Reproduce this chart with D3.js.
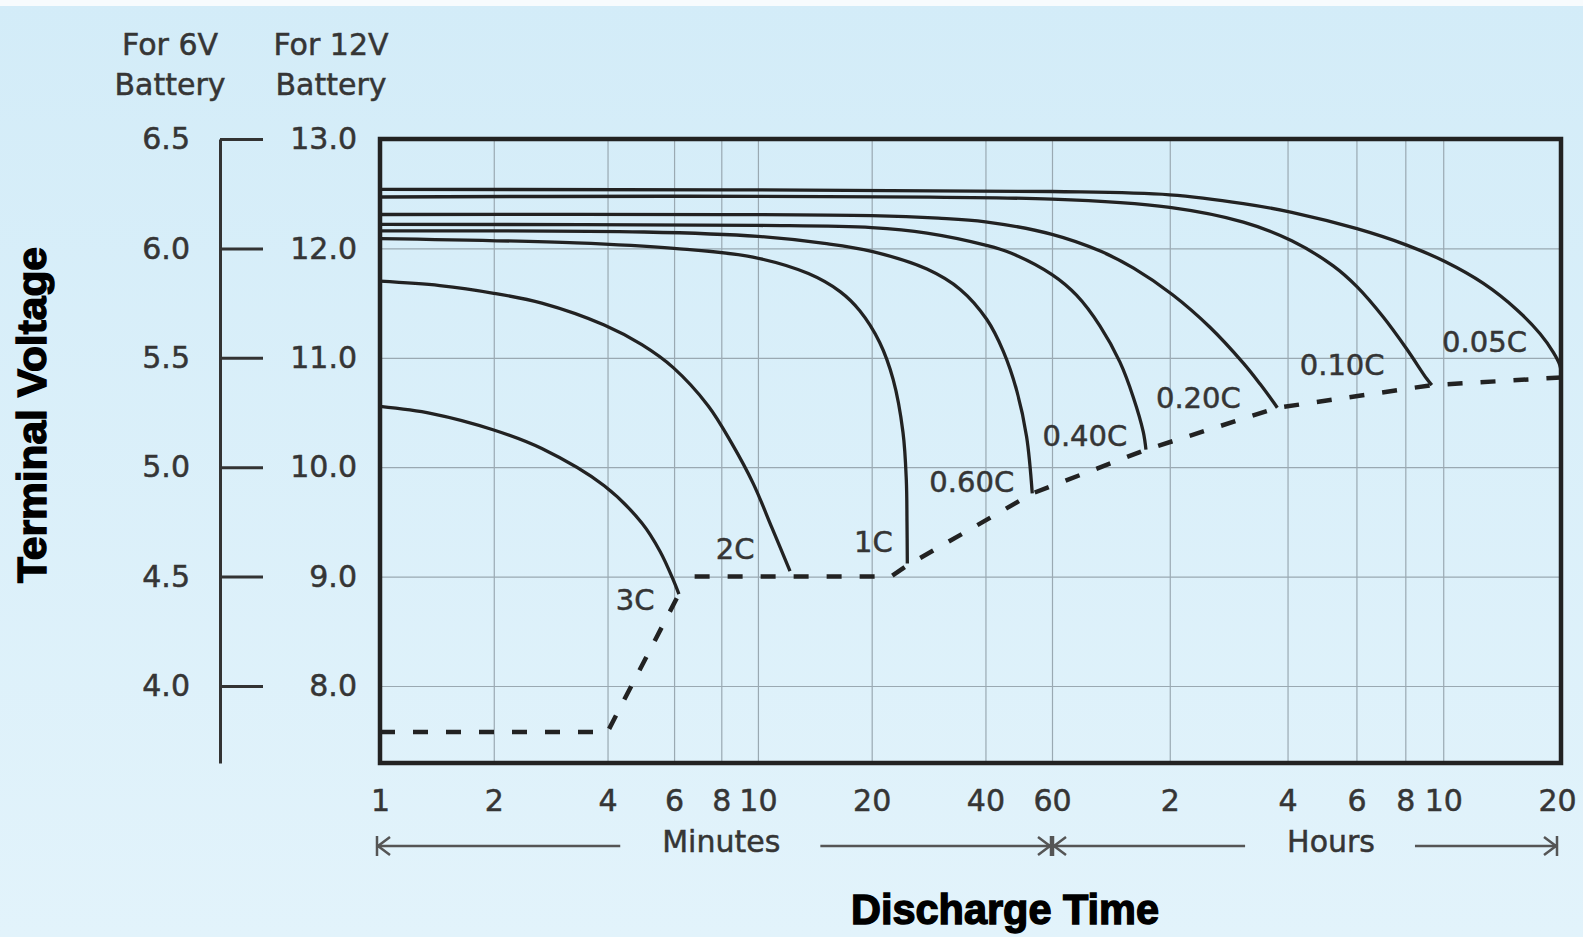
<!DOCTYPE html>
<html>
<head>
<meta charset="utf-8">
<script src="https://cdn.jsdelivr.net/npm/d3@7"></script>
<style>
  html, body { margin: 0; padding: 0; background: #fff; }
  svg { display: block; }
</style>
</head>
<body>
<svg id="chart" width="1583" height="937"></svg>
<script>
// x ticks in minutes, labels as printed (minutes, then hours)
const tickMinutes = [1, 2, 4, 6, 8, 10, 20, 40, 60, 120, 240, 360, 480, 600, 1200];
const tickLabels = ["1", "2", "4", "6", "8", "10", "20", "40", "60", "2", "4", "6", "8", "10", "20"];
const volt12 = [8, 9, 10, 11, 12, 13];
const volt6 = [4.0, 4.5, 5.0, 5.5, 6.0, 6.5];

const rates = ["3C", "2C", "1C", "0.60C", "0.40C", "0.20C", "0.10C", "0.05C"];

// [minutes, volts] for a 12V battery
const c3C = [[1, 10.555], [1.37, 10.49], [2, 10.34], [2.68, 10.17], [3.92, 9.83], [4.93, 9.49], [5.51, 9.23], [5.97, 8.97], [6.18, 8.84]];
const c2C = [[1, 11.70], [1.44, 11.66], [2, 11.59], [2.68, 11.50], [3.92, 11.30], [4.93, 11.12], [5.97, 10.91], [7.39, 10.56], [8.52, 10.22], [9.72, 9.85], [10.88, 9.45], [12.16, 9.05]];
const c1C = [[1, 12.09], [3.3, 12.05], [6, 12.0], [9.7, 11.92], [13.6, 11.77], [16.5, 11.605], [18.6, 11.43], [21, 11.14], [22.8, 10.80], [24.2, 10.32], [24.7, 9.88], [24.8, 9.5], [24.85, 9.12]];
const c060 = [[1, 12.16], [5, 12.15], [10, 12.11], [15, 12.046], [20, 11.973], [28, 11.811], [34.3, 11.625], [40.3, 11.352], [44.6, 11.059], [48.4, 10.70], [51.4, 10.279], [53.2, 9.76]];
const c040 = [[1, 12.22], [10, 12.21], [20, 12.19], [28, 12.14], [40, 12.03], [46.5, 11.96], [60, 11.76], [69.4, 11.57], [79.6, 11.29], [89.5, 10.96], [96.8, 10.64], [102.7, 10.32], [104.3, 10.16]];
const c020 = [[1, 12.31], [20, 12.3], [30, 12.277], [40, 12.243], [60, 12.128], [80, 11.973], [97, 11.819], [122, 11.576], [152, 11.279], [185, 10.951], [204, 10.762], [221, 10.593], [226, 10.543]];
const c010 = [[1, 12.47], [60, 12.45], [120, 12.375], [185, 12.24], [246, 12.07], [314, 11.84], [361, 11.65], [422, 11.37], [484, 11.08], [544, 10.81], [561, 10.75]];
const c005 = [[1, 12.54], [60, 12.52], [120, 12.49], [185, 12.41], [246, 12.33], [361, 12.18], [484, 12.03], [606, 11.88], [760, 11.68], [925, 11.44], [1061, 11.22], [1147, 11.05], [1190, 10.94], [1200, 10.88]];
const curves = [c3C, c2C, c1C, c060, c040, c020, c010, c005];

// where each rate label sits [minutes, volts]
const labelSpots = [[4.73, 8.79], [8.7, 9.26], [20.2, 9.32], [36.8, 9.87], [72.8, 10.29], [142, 10.64], [331, 10.94], [765, 11.15]];

// final discharge voltage (dashed)
const cutoffLow = [[1, 7.58], [4, 7.58], [6.18, 8.84]];
const cutoffHigh = [[6.8, 9.0], [12.2, 9.0], [22.5, 9.0], [24.8, 9.1], [53.2, 9.76], [104.3, 10.16], [226, 10.543], [561, 10.75], [1200, 10.82]];

// time spans under the axis: name, from, to, where the name sits (minutes)
const spans = [["Minutes", 1, 60, 8], ["Hours", 60, 1200, 310]];

const svg = d3.select("#chart");
const pLeft = 380, pRight = 1561, pTop = 139, pBottom = 763;
const ink = "#222";
const gray = "#353535";
const labelFont = "'DejaVu Sans', Arial, sans-serif";

// minutes and hours each get their own log stretch
const xLog = d3.scaleLinear()
  .domain([0, Math.log10(60), Math.log10(1200)])
  .range([pLeft, 1052, pRight]);
const x = m => xLog(Math.log10(m));
const y = d3.scaleLinear().domain([8, 13]).range([686, pTop]);
const y6 = d3.scaleLinear().domain([y.invert(pBottom) / 2, 6.5]).range([pBottom, pTop]);

function grayText(sel, size) {
  sel.attr("font-family", labelFont)
    .attr("font-size", size)
    .attr("fill", gray)
    .attr("stroke", gray)
    .attr("stroke-width", 0.5);
}

// background
const defs = svg.append("defs");
const grad = defs.append("linearGradient").attr("id", "bg").attr("x1", 0).attr("y1", 0).attr("x2", 0).attr("y2", 1);
grad.append("stop").attr("offset", "0%").attr("stop-color", "#d3ecf8");
grad.append("stop").attr("offset", "100%").attr("stop-color", "#e2f3fb");
svg.append("rect").attr("width", 1583).attr("height", 937).attr("fill", "url(#bg)");
svg.append("rect").attr("width", 1583).attr("height", 6).attr("fill", "#f7fbfd");

// grid
svg.append("g")
  .attr("transform", `translate(0,${pBottom})`)
  .call(d3.axisBottom(xLog).tickValues(tickMinutes.map(Math.log10)).tickSize(-(pBottom - pTop)).tickFormat(""))
  .call(g => g.select(".domain").remove())
  .selectAll("line").attr("stroke", "#9aa9b2").attr("stroke-width", 1.2);

svg.append("g")
  .attr("transform", `translate(${pLeft},0)`)
  .call(d3.axisLeft(y).tickValues(volt12).tickSize(-(pRight - pLeft)).tickFormat(""))
  .call(g => g.select(".domain").remove())
  .selectAll("line").attr("stroke", "#9aa9b2").attr("stroke-width", 1.2);

// discharge curves
const line = d3.line().x(d => x(d[0])).y(d => y(d[1])).curve(d3.curveCatmullRom.alpha(0.5));
svg.append("g").selectAll("path")
  .data(curves)
  .join("path")
  .attr("d", line)
  .attr("fill", "none")
  .attr("stroke", ink)
  .attr("stroke-width", 3.3);

const dashLine = d3.line().x(d => x(d[0])).y(d => y(d[1]));
svg.append("g").selectAll("path")
  .data([cutoffLow, cutoffHigh])
  .join("path")
  .attr("d", dashLine)
  .attr("fill", "none")
  .attr("stroke", ink)
  .attr("stroke-width", 4.5)
  .attr("stroke-dasharray", "15,18");

// rate labels
svg.append("g").selectAll("text")
  .data(rates)
  .join("text")
  .attr("x", (d, i) => x(labelSpots[i][0]))
  .attr("y", (d, i) => y(labelSpots[i][1]))
  .attr("dy", "0.36em")
  .attr("text-anchor", "middle")
  .call(grayText, 29)
  .text(d => d);

// plot frame
svg.append("rect")
  .attr("x", pLeft).attr("y", pTop)
  .attr("width", pRight - pLeft).attr("height", pBottom - pTop)
  .attr("fill", "none")
  .attr("stroke", ink)
  .attr("stroke-width", 4.5);

// 12V labels
const ax12 = svg.append("g")
  .attr("transform", "translate(357,0)")
  .call(d3.axisLeft(y).tickValues(volt12).tickSize(0).tickPadding(0).tickFormat(d3.format(".1f")));
ax12.select(".domain").remove();
ax12.selectAll("text").call(grayText, 30);

// 6V scale
const ax6 = svg.append("g")
  .attr("transform", "translate(220,0)")
  .call(d3.axisLeft(y6).tickValues(volt6).tickSizeInner(-43).tickSizeOuter(0).tickPadding(30).tickFormat(d3.format(".1f")));
ax6.selectAll("line, path").attr("stroke", "#333").attr("stroke-width", 3);
ax6.selectAll("text").call(grayText, 30);

// headers
const head = svg.append("g").attr("text-anchor", "middle").call(grayText, 30);
[["For 6V", 170], ["For 12V", 331]].forEach(([t, cx]) => {
  head.append("text").attr("x", cx).attr("y", 55).text(t);
  head.append("text").attr("x", cx).attr("y", 95).text("Battery");
});

// x tick labels
const axX = svg.append("g")
  .attr("transform", `translate(0,${pBottom})`)
  .call(d3.axisBottom(xLog).tickValues(tickMinutes.map(Math.log10)).tickSize(0).tickPadding(27)
    .tickFormat((d, i) => tickLabels[i]));
axX.select(".domain").remove();
axX.selectAll("text").call(grayText, 30);
axX.selectAll("text").filter((d, i) => i === tickLabels.length - 1).attr("x", -4);

// minutes / hours spans
const spanY = 846;
const arrows = svg.append("g").attr("stroke", "#555").attr("stroke-width", 2.5).attr("fill", "none");
spans.forEach(([name, a, b, mid]) => {
  const x0 = x(a) + (a === 1 ? -3 : 1), x1 = x(b) - (b === 1200 ? 4 : 1);
  const t = svg.append("text")
    .attr("x", x(mid))
    .attr("y", 852)
    .attr("text-anchor", "middle")
    .call(grayText, 30)
    .text(name);
  const bb = t.node().getBBox();
  arrows.append("path").attr("d", `M${x0},${spanY}H${bb.x - 42}M${bb.x + bb.width + 40},${spanY}H${x1}`);
  arrows.append("path").attr("d", `M${x0 + 13},${spanY - 9}L${x0 + 1},${spanY}L${x0 + 13},${spanY + 9}M${x0},${spanY - 10}V${spanY + 10}`);
  arrows.append("path").attr("d", `M${x1 - 13},${spanY - 9}L${x1 - 1},${spanY}L${x1 - 13},${spanY + 9}M${x1},${spanY - 10}V${spanY + 10}`);
});

// axis titles
svg.append("text")
  .attr("transform", "translate(46,415) rotate(-90)")
  .attr("text-anchor", "middle")
  .attr("font-family", "'Liberation Sans', Arial, sans-serif")
  .attr("font-weight", "bold")
  .attr("font-size", 40)
  .attr("textLength", 336)
  .attr("lengthAdjust", "spacingAndGlyphs")
  .attr("stroke", "#000").attr("stroke-width", 1.4)
  .attr("fill", "#000")
  .text("Terminal Voltage");

svg.append("text")
  .attr("x", 1005)
  .attr("y", 924)
  .attr("text-anchor", "middle")
  .attr("font-family", "'Liberation Sans', Arial, sans-serif")
  .attr("font-weight", "bold")
  .attr("font-size", 42)
  .attr("textLength", 308)
  .attr("lengthAdjust", "spacingAndGlyphs")
  .attr("stroke", "#000").attr("stroke-width", 1.4)
  .attr("fill", "#000")
  .text("Discharge Time");
</script>
</body>
</html>
